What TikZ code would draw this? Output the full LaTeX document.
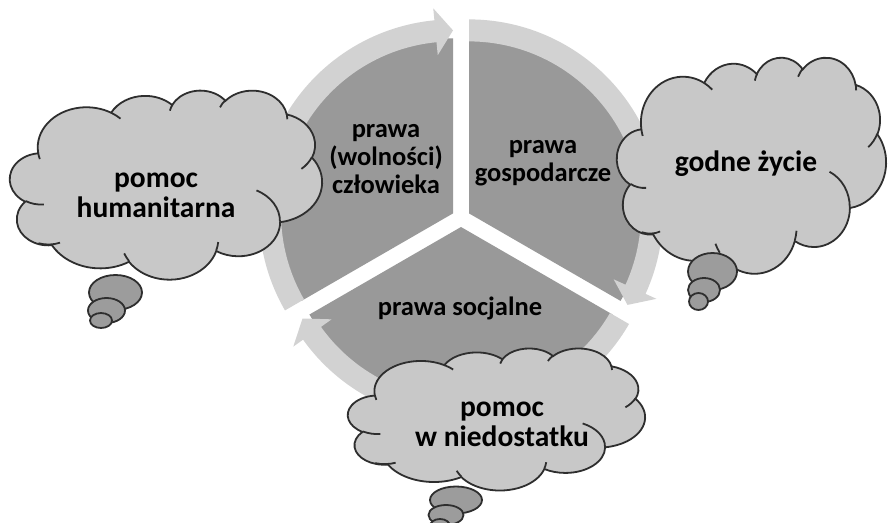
\documentclass[tikz,border=0pt]{standalone}
\usepackage{fontspec}
\setmainfont{Carlito}
\usetikzlibrary{calc}
\definecolor{wedgegray}{HTML}{999999}
\definecolor{ringgray}{HTML}{D2D2D2}
\definecolor{cloudgray}{HTML}{C8C8C8}
\definecolor{bubblegray}{HTML}{9C9C9C}
\definecolor{inkgray}{HTML}{2E2E2E}

% Office-style elliptic arc: geometric angles -> parametric angles
\newcommand\ooprep[5]{%
  \pgfmathsetmacro\ootmpa{atan2((#2)*sin(#4),(#3)*cos(#4))}%
  \pgfmathsetmacro\ootmpb{atan2((#2)*sin((#4)+(#5)),(#3)*cos((#4)+(#5)))}%
  \pgfmathsetmacro\ootmpd{mod(\ootmpb-\ootmpa+720,360)}%
  \expandafter\xdef\csname oo#1\endcsname{arc[start angle=\ootmpa, delta angle=\ootmpd, x radius=#2, y radius=#3]}%
}
\ooprep{arcA}{6.753}{9.19}{-190.4875}{123.7805}
\ooprep{arcB}{5.333}{7.267}{-144.1024}{89.9452}
\ooprep{arcC}{4.365}{5.945}{-145.8079}{99.7230}
\ooprep{arcD}{4.857}{6.595}{-130.9861}{117.2417}
\ooprep{arcE}{5.333}{7.273}{-78.7089}{109.0269}
\ooprep{arcF}{6.775}{9.220}{-46.2673}{130.2690}
\ooprep{arcG}{5.785}{7.867}{0.6250}{114.0333}
\ooprep{arcH}{6.752}{9.215}{22.4516}{115.1726}
\ooprep{arcI}{7.720}{10.543}{66.2426}{75.7110}
\ooprep{arcJ}{4.360}{5.936}{-274.9421}{146.7356}
\ooprep{arcK}{4.345}{5.945}{-246.8285}{152.5189}
\ooprep{innA}{4.345}{5.945}{86.7420}{26.4295}
\ooprep{innB}{4.360}{5.936}{73.6105}{29.8851}
\ooprep{innC}{6.752}{9.215}{137.6242}{14.0811}
\ooprep{innD}{6.752}{9.215}{6.4533}{15.9984}
\ooprep{innE}{5.785}{7.867}{-70.2924}{70.9174}
\ooprep{innF}{5.333}{7.273}{30.3180}{27.7515}
\ooprep{innG}{4.857}{6.595}{-13.7443}{14.8508}
\ooprep{innH}{4.857}{6.595}{-149.1815}{18.1954}
\ooprep{innI}{4.365}{5.945}{-163.4943}{17.6864}
\ooprep{innJ}{6.753}{9.190}{-66.7070}{12.3194}
\ooprep{innK}{6.753}{9.190}{157.6544}{11.8582}

\tikzset{
  cloudbody/.style={fill=cloudgray, draw=inkgray, line width=1.8pt},
  cloudline/.style={draw=inkgray, line width=1.8pt},
  bubblestyle/.style={fill=bubblegray, draw=inkgray, line width=1.8pt},
  wtext/.style={font=\fontsize{26.5}{28}\selectfont\bfseries, align=center, text=black, inner sep=0pt},
  ctext/.style={font=\fontsize{29.5}{30}\selectfont\bfseries, align=center, text=black, inner sep=0pt}
}

\newcommand\cloudshape[4]{% x0 y0 W H
  \pgfmathsetmacro\cwu{#3/43.2}\pgfmathsetmacro\chu{#4/43.2}%
  \begin{scope}[shift={(#1,#2)}, x=\cwu pt, y=-\chu pt]
    \path[cloudbody] (3.9,14.37) \ooarcA \ooarcB \ooarcC \ooarcD \ooarcE \ooarcF \ooarcG \ooarcH \ooarcI \ooarcJ \ooarcK -- cycle;
    \path[cloudline] (4.693,26.177) \ooinnA (6.928,34.899) \ooinnB (16.478,39.090) \ooinnC
      (28.827,34.751) \ooinnD (34.129,22.954) \ooinnE (41.798,15.354) \ooinnF
      (38.324,5.426) \ooinnG (29.078,3.952) \ooinnH (22.141,4.720) \ooinnI
      (14.000,5.192) \ooinnJ (4.127,15.789) \ooinnK;
  \end{scope}}

\newcommand\pieseg[3]{%
  \fill[wedgegray] (#1) -- ($(#1)+(#2:175)$) arc[start angle=#2, end angle=#3, radius=175] -- cycle;}

\newcommand\ringarrow[3]{%
  \pgfmathsetmacro\hb{#3-5.5}%
  \fill[ringgray] ($(#1)+(#2:194)$) arc[start angle=#2, end angle=\hb, radius=194]
    -- ($(#1)+(\hb:206)$) -- ($(#1)+(#3:183)$) -- ($(#1)+(\hb:159)$) -- ($(#1)+(\hb:172)$)
    arc[start angle=\hb, end angle=#2, radius=172] -- cycle;}

\begin{document}
\begin{tikzpicture}[x=1pt, y=-1pt]
\fill[white] (0,0) rectangle (888,522);
\useasboundingbox (0,0) rectangle (888,522);

\coordinate (cL) at (453,213.4);
\coordinate (cR) at (469,213.4);
\coordinate (cB) at (461,227);

\pieseg{cL}{150}{270}
\pieseg{cR}{-90}{30}
\pieseg{cB}{30}{150}
\ringarrow{cL}{150}{270}
\ringarrow{cR}{-90}{30}
\ringarrow{cB}{30}{150}

% clouds
\cloudshape{10}{90}{312}{189}
\path[bubblestyle] (115.5,292.5) ellipse[x radius=26.5, y radius=17.5];
\path[bubblestyle] (106.5,310.5) ellipse[x radius=18.5, y radius=12.5];
\path[bubblestyle] (101,320.5) ellipse[x radius=11, y radius=7.5];

\cloudshape{617}{57}{269}{216}
\path[bubblestyle] (712.5,271.5) ellipse[x radius=24.5, y radius=18.5];
\path[bubblestyle] (704,290) ellipse[x radius=16, y radius=12];
\path[bubblestyle] (698.5,301.5) ellipse[x radius=9.5, y radius=8.5];

\cloudshape{348}{348}{297}{142}
\path[bubblestyle] (456,500) ellipse[x radius=26, y radius=13.5];
\path[bubblestyle] (446,515) ellipse[x radius=17.5, y radius=10];
\path[bubblestyle] (440,526) ellipse[x radius=10, y radius=7];

% texts
\node[wtext] (t1) at (386,159) {prawa\\(wolności)\\człowieka};
\node[wtext] (t2) at (543,163) {prawa\\gospodarcze};
\node[wtext] (t3) at (460,308) {prawa socjalne};
\node[ctext] (t4) at (156,195) {pomoc\\humanitarna};
\node[ctext] (t5) at (746,164) {godne życie};
\node[ctext] (t6) at (502,424) {pomoc\\w niedostatku};
\end{tikzpicture}
\end{document}
